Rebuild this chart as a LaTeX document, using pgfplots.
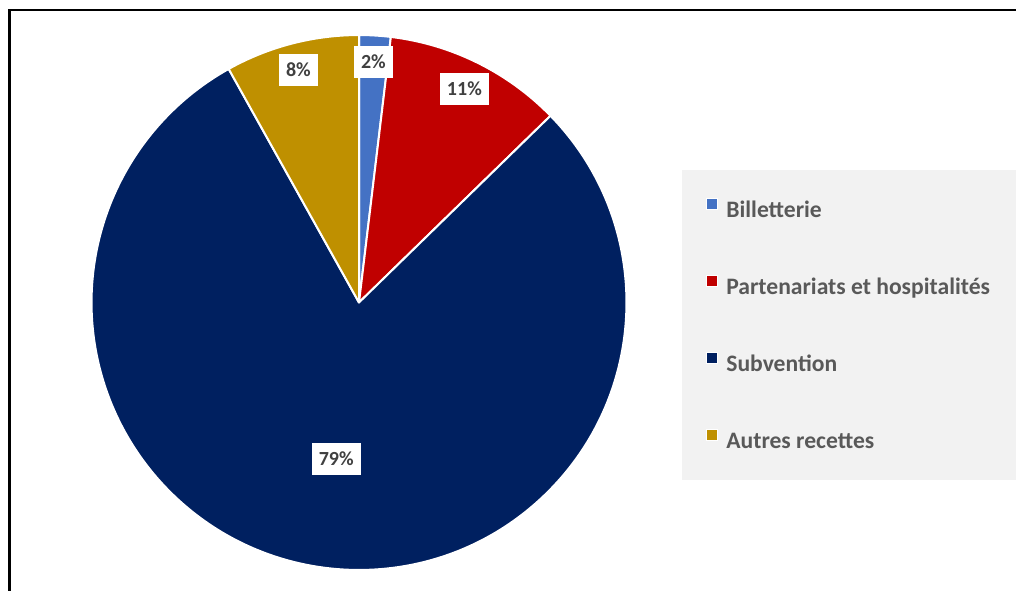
\documentclass[border=0pt]{standalone}
\usepackage{pgfplots}
\pgfplotsset{compat=1.18}
\usepackage{pgfplotstable}
\usepackage{fontspec}
\setmainfont{Carlito}

\definecolor{cBill}{HTML}{4472C4}
\definecolor{cPart}{HTML}{C00000}
\definecolor{cSub}{HTML}{002060}
\definecolor{cAutre}{HTML}{BF9000}
\definecolor{legbg}{HTML}{F2F2F2}
\definecolor{txtgray}{HTML}{595959}
\definecolor{lblgray}{HTML}{404040}

\tikzset{pielbl/.style={fill=white, text=lblgray, font=\fontsize{15}{18}\selectfont\bfseries,
    inner xsep=5.2pt, inner ysep=0pt, minimum height=24pt, text height=10pt, text depth=0pt}}

% share of each source of revenue (%), slice colour, label distance (fraction of radius)
\pgfplotstableread[col sep=comma]{
name,value,color,lr
Billetterie,1.9,cBill,0.90
Partenariats,10.8,cPart,0.89
Subvention,79.2,cSub,0.59
Autres,8.1,cAutre,0.90
}\piedata

\begin{document}
\begin{tikzpicture}[x=0.75pt,y=0.75pt]
\useasboundingbox (0,0) rectangle (1016,590);
\begin{axis}[
  at={(0,0)}, anchor=south west,
  scale only axis, width=762pt, height=442.5pt,
  xmin=0, xmax=1016, ymin=0, ymax=590,
  hide axis,
  legend style={at={(axis cs:706,392.5)}, anchor=north west, draw=none, fill=none,
    inner sep=0pt, outer sep=0pt,
    font=\fontsize{17.7}{20}\selectfont\bfseries, text=txtgray,
    row sep=39pt, column sep=6pt,
    nodes={inner sep=0pt, text height=13pt, text depth=4pt},
    cells={anchor=west}},
  legend image code/.code={\draw[#1, draw=white, line width=0.75pt] (0pt,1.5pt) rectangle (8.5pt,10pt);},
]
% legend panel
\fill[legbg] (axis cs:682,110) rectangle (axis cs:1100,420);

\pgfplotstablegetrowsof{\piedata}
\pgfmathtruncatemacro\N{\pgfplotsretval-1}

% slices, clockwise from 12 o'clock
\def\cum{0}
\pgfplotsforeachungrouped \i in {0,...,\N}{%
  \pgfplotstablegetelem{\i}{value}\of\piedata \let\pv\pgfplotsretval
  \pgfplotstablegetelem{\i}{color}\of\piedata \let\pc\pgfplotsretval
  \pgfmathsetmacro\sa{90-3.6*\cum}%
  \pgfmathsetmacro\ea{90-3.6*(\cum+\pv)}%
  \edef\temp{\noexpand\fill[\pc, draw=white, line width=1.5pt, line join=round]
    (axis cs:359,287.5) -- ++(\sa:200.6pt) arc[start angle=\sa, end angle=\ea, radius=200.6pt] -- cycle;}%
  \temp
  \pgfmathsetmacro\cum{\cum+\pv}%
}

% percentage labels
\def\cum{0}
\pgfplotsforeachungrouped \i in {0,...,\N}{%
  \pgfplotstablegetelem{\i}{value}\of\piedata \let\pv\pgfplotsretval
  \pgfplotstablegetelem{\i}{lr}\of\piedata \let\plr\pgfplotsretval
  \pgfmathsetmacro\md{90-3.6*(\cum+\pv/2)}%
  \pgfmathsetmacro\lx{359+\plr*267.5*cos(\md)}%
  \pgfmathsetmacro\ly{287.5+\plr*267.5*sin(\md)}%
  \pgfmathtruncatemacro\pct{round(\pv)}%
  \edef\temp{\noexpand\node[pielbl] at (axis cs:\lx,\ly) {\pct\noexpand\%};}%
  \temp
  \pgfmathsetmacro\cum{\cum+\pv}%
}

% outer frame
\draw[black, line width=1.8pt] (axis cs:9.5,-50) rectangle (axis cs:1100,580);

\addlegendimage{fill=cBill}
\addlegendentry{Billetterie}
\addlegendimage{fill=cPart}
\addlegendentry{Partenariats et hospitalités}
\addlegendimage{fill=cSub}
\addlegendentry{Subvention}
\addlegendimage{fill=cAutre}
\addlegendentry{Autres recettes}
\end{axis}
\end{tikzpicture}
\end{document}
